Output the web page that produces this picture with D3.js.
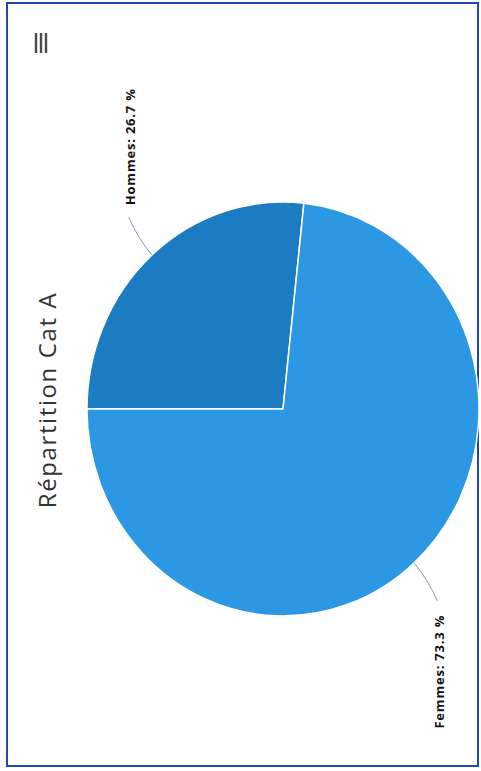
<!DOCTYPE html>
<html>
<head>
<meta charset="utf-8">
<script src="https://cdn.jsdelivr.net/npm/d3@7"></script>
<style>
  html, body { margin: 0; padding: 0; background: #fff; }
  svg { display: block; }
</style>
</head>
<body>
<svg id="chart" width="481" height="771"></svg>
<script>
// Chart data
const categories = ["Hommes", "Femmes"];
const values = [26.7, 73.3];
const colors = ["#1b7cc2", "#2c97e3"];
const title = "Répartition Cat A";

const svg = d3.select("#chart");

// Frame
svg.append("rect")
  .attr("x", 7).attr("y", 3)
  .attr("width", 471).attr("height", 763)
  .attr("fill", "#fff")
  .attr("stroke", "#1f47b0")
  .attr("stroke-width", 2);

// Menu icon (three bars, drawn vertically)
const menu = svg.append("g").attr("stroke", "#4a4a4a").attr("stroke-width", 2.4);
[36, 41, 46].forEach(x => {
  menu.append("line").attr("x1", x).attr("x2", x).attr("y1", 33).attr("y2", 53);
});

// Title, rotated to read bottom-to-top
svg.append("text")
  .attr("transform", "translate(56,400) rotate(-90)")
  .attr("text-anchor", "middle")
  .attr("font-family", "'Open Sans', sans-serif")
  .attr("font-size", 24)
  .attr("letter-spacing", 1.6)
  .attr("fill", "#333")
  .text(title);

// Pie geometry
const cx = 283, cy = 409, r = 207, sx = 0.947;
const pie = d3.pie().sort(null).value(d => d.value)
  .startAngle(-Math.PI / 2).endAngle(3 * Math.PI / 2);
const arcs = pie(categories.map((c, i) => ({ name: c, value: values[i], color: colors[i] })));
const arc = d3.arc().innerRadius(0).outerRadius(r);

const pieG = svg.append("g").attr("transform", `translate(${cx},${cy}) scale(${sx},1)`);
pieG.selectAll("path.slice")
  .data(arcs)
  .join("path")
  .attr("class", "slice")
  .attr("d", arc)
  .attr("fill", d => d.data.color)
  .attr("stroke", "#fff")
  .attr("stroke-width", 1.6)
  .attr("stroke-linejoin", "round");

// Data labels with connectors
const fmt = d3.format(".1f");
arcs.forEach(d => {
  const mid = (d.startAngle + d.endAngle) / 2;
  const dx = Math.sin(mid), dy = -Math.cos(mid);
  const p0 = [cx + dx * r * sx, cy + dy * r];
  const p1 = [cx + dx * (r + 22) * sx, cy + dy * (r + 22)];
  const p2 = [cx + dx * (r + 40) * sx, cy + dy * (r + 40)];
  const end = [p2[0] + (dx < 0 ? 2 : -2), p2[1] + (dy < 0 ? -8 : 8)];
  svg.append("path")
    .attr("d", `M${p0[0]},${p0[1]} Q${p1[0]},${p1[1]} ${end[0]},${end[1]}`)
    .attr("fill", "none")
    .attr("stroke", "#8796b8")
    .attr("stroke-width", 1);
  const tx = end[0] + 3;
  const up = dy < 0;
  svg.append("text")
    .attr("transform", `translate(${tx},${up ? end[1] - 12 : end[1] + 14}) rotate(-90)`)
    .attr("text-anchor", up ? "start" : "end")
    .attr("dominant-baseline", "middle")
    .attr("font-family", "'Open Sans', sans-serif")
    .attr("font-weight", "bold")
    .attr("font-size", 13)
    .attr("letter-spacing", 0.8)
    .attr("fill", "#111")
    .text(`${d.data.name}: ${fmt(d.data.value)} %`);
});
</script>
</body>
</html>
